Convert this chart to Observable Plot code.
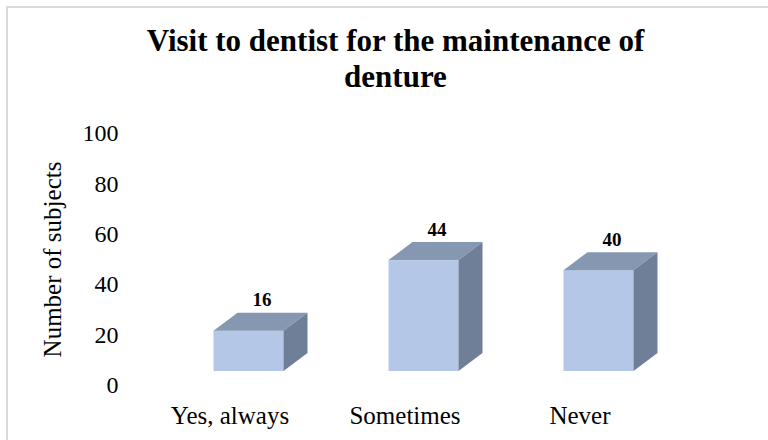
<!DOCTYPE html>
<html>
<head>
<meta charset="utf-8">
<script src="https://cdn.jsdelivr.net/npm/d3@7"></script>
<script src="https://cdn.jsdelivr.net/npm/@observablehq/plot@0.6"></script>
<style>
  html, body { margin: 0; padding: 0; background: #fff; }
  #wrap { position: relative; width: 768px; height: 440px; overflow: hidden; background: #fff; }
  #frame { position: absolute; left: 6px; top: 6px; width: 800px; height: 460px;
           border-top: 2px solid #d9d9d9; border-left: 2px solid #d9d9d9; }
  #title { position: absolute; left: 22px; top: 23px; width: 747px; text-align: center;
           font-family: "Liberation Serif", serif; font-weight: bold; font-size: 31px;
           line-height: 36px; color: #000; }
  #chart { position: absolute; left: 0; top: 100px; }
</style>
</head>
<body>
<div id="wrap">
  <div id="frame"></div>
  <div id="title">Visit to dentist for the maintenance of<br>denture</div>
  <div id="chart"></div>
</div>
<script>
const titleText = "Visit to dentist for the maintenance of denture";
const categories = ["Yes, always", "Sometimes", "Never"];
const values = [16, 44, 40];
const yTicks = [0, 20, 40, 60, 80, 100];
const yLabel = "Number of subjects";

const data = categories.map((c, i) => ({cat: c, value: values[i]}));

const frontColor = "#b4c7e7";
const topColor = "#8597b1";
const sideColor = "#6f7f97";
const insetL = 71.5, insetR = 33.5, depthX = 24, depthY = 18, lift = 14;

const faces = (index, scales) => {
  const sx = scales.x, sy = scales.y;
  const step = sx(categories[1]) - sx(categories[0]);
  const g = d3.create("svg:g");
  categories.forEach((c, i) => {
    const xl = sx(c) + insetL, xr = sx(c) + step - insetR;
    const yt = sy(values[i]) - lift, yb = sy(0) - lift;
    g.append("path")
      .attr("d", `M${xl},${yt}L${xr},${yt}L${xr + depthX},${yt - depthY}L${xl + depthX},${yt - depthY}Z`)
      .attr("fill", topColor);
    g.append("path")
      .attr("d", `M${xr},${yt}L${xr + depthX},${yt - depthY}L${xr + depthX},${yb - depthY}L${xr},${yb}Z`)
      .attr("fill", sideColor);
  });
  return g.node();
};

const chart = Plot.plot({
  width: 768,
  height: 340,
  marginTop: 33,
  marginBottom: 55,
  marginLeft: 141.5,
  marginRight: 101.5,
  style: {fontFamily: "Liberation Serif, serif", fontSize: "24px", background: "transparent", color: "#000"},
  x: {type: "band", domain: categories, padding: 0},
  y: {domain: [0, 100]},
  marks: [
    Plot.axisY({ticks: yTicks, tickSize: 0, tickPadding: 23.5, fontSize: 24, label: null}),
    Plot.axisX({tickSize: 0, tickPadding: 21, fontSize: 25, label: null}),
    Plot.text([yLabel], {frameAnchor: "left", textAnchor: "middle", text: d => d, rotate: -90, dx: -89, fontSize: 25}),
    Plot.barY(data, {x: "cat", y: "value", fill: frontColor, insetLeft: insetL, insetRight: insetR, dy: -lift}),
    faces,
    Plot.text(data, {x: "cat", y: "value", text: d => String(d.value), dx: 32, dy: -45, fontWeight: "bold", fontSize: 19})
  ]
});
document.getElementById("chart").appendChild(chart);
</script>
</body>
</html>
